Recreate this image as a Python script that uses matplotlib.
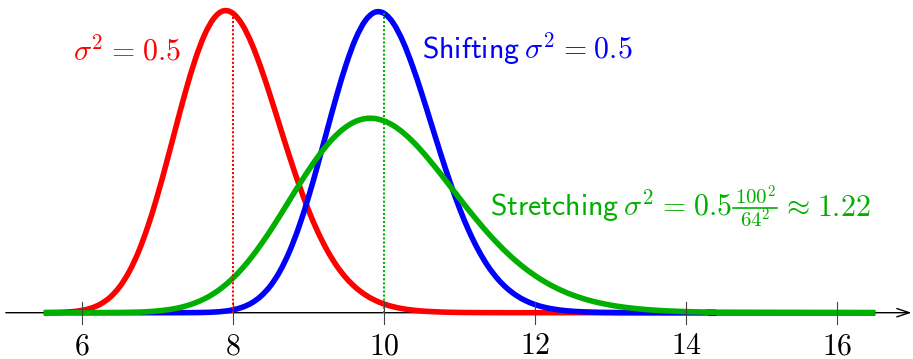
import numpy as np
import matplotlib
matplotlib.use("Agg")
import matplotlib.pyplot as plt
from matplotlib.path import Path
from matplotlib.patches import PathPatch
from matplotlib.lines import Line2D

plt.rcParams['mathtext.fontset'] = 'cm'

# ---- data ----
x_start, x_step, n_pts = 5.5, 0.125, 73        # sample grid 5.5 .. 14.5
x_end = 16.5                                   # curves drawn flat up to here
tick_values = [6, 8, 10, 12, 14, 16]

red_y = [0.0001, 0.0003, 0.0008, 0.0020, 0.0043, 0.0086, 0.0163, 0.0289, 0.0483, 0.0763,
         0.1140, 0.1621, 0.2194, 0.2837, 0.3512, 0.4171, 0.4761, 0.5234, 0.5551, 0.5691,
         0.5647, 0.5433, 0.5074, 0.4607, 0.4072, 0.3507, 0.2947, 0.2419, 0.1941, 0.1524,
         0.1173, 0.0884, 0.0654, 0.0476, 0.0340, 0.0239, 0.0165, 0.0112, 0.0075, 0.0050,
         0.0032, 0.0021, 0.0013, 0.0008, 0.0005, 0.0003, 0.0002, 0.0001, 0.0001, 0.0000,
         0.0000, 0.0000, 0.0000, 0.0000, 0.0000, 0.0000, 0.0000, 0.0000, 0.0000, 0.0000,
         0.0000, 0.0000, 0.0000, 0.0000, 0.0000, 0.0000, 0.0000, 0.0000, 0.0000, 0.0000,
         0.0000, 0.0000, 0.0000]

blue_y = [0.0000, 0.0000, 0.0000, 0.0000, 0.0000, 0.0000, 0.0000, 0.0000, 0.0000, 0.0000,
          0.0000, 0.0000, 0.0000, 0.0000, 0.0000, 0.0001, 0.0002, 0.0005, 0.0012, 0.0026,
          0.0054, 0.0102, 0.0184, 0.0315, 0.0510, 0.0786, 0.1154, 0.1619, 0.2173, 0.2794,
          0.3450, 0.4096, 0.4683, 0.5164, 0.5499, 0.5662, 0.5645, 0.5456, 0.5118, 0.4663,
          0.4133, 0.3566, 0.2998, 0.2459, 0.1968, 0.1540, 0.1178, 0.0881, 0.0646, 0.0464,
          0.0327, 0.0226, 0.0153, 0.0102, 0.0067, 0.0043, 0.0027, 0.0017, 0.0011, 0.0006,
          0.0004, 0.0002, 0.0001, 0.0001, 0.0000, 0.0000, 0.0000, 0.0000, 0.0000, 0.0000,
          0.0000, 0.0000, 0.0000]

green_y = [0.0000, 0.0000, 0.0000, 0.0000, 0.0000, 0.0000, 0.0001, 0.0002, 0.0003, 0.0006,
           0.0011, 0.0019, 0.0033, 0.0053, 0.0082, 0.0125, 0.0184, 0.0262, 0.0364, 0.0492,
           0.0649, 0.0835, 0.1050, 0.1291, 0.1553, 0.1832, 0.2119, 0.2405, 0.2681, 0.2937,
           0.3165, 0.3356, 0.3505, 0.3607, 0.3659, 0.3662, 0.3617, 0.3528, 0.3399, 0.3237,
           0.3048, 0.2838, 0.2616, 0.2386, 0.2156, 0.1929, 0.1711, 0.1504, 0.1311, 0.1133,
           0.0972, 0.0827, 0.0699, 0.0586, 0.0488, 0.0404, 0.0332, 0.0271, 0.0220, 0.0178,
           0.0143, 0.0114, 0.0091, 0.0072, 0.0056, 0.0044, 0.0034, 0.0027, 0.0021, 0.0016,
           0.0012, 0.0009, 0.0007]

# ---- styling ----
RED, BLUE, GREEN = '#ff0000', '#0000ff', '#00af00'
W, H = 913, 359

x = x_start + x_step * np.arange(n_pts)
xs = np.append(x, x_end)


def smooth_path(xv, yv):
    """Smooth (Catmull-Rom style) Bezier path passing through every sample."""
    P = np.column_stack([xv, yv])
    E = np.vstack([P[0], P, P[-1]])
    verts = [P[0]]
    codes = [Path.MOVETO]
    for i in range(len(P) - 1):
        p0, p1, p2, p3 = E[i], E[i + 1], E[i + 2], E[i + 3]
        verts += [p1 + (p2 - p0) / 6.0, p2 - (p3 - p1) / 6.0, p2]
        codes += [Path.CURVE4] * 3
    return Path(verts, codes)


fig = plt.figure(figsize=(W / 100, H / 100), dpi=100)
ax = fig.add_axes([0, 0, 1, 1])
ax.set_xlim(4.92, 17.0)
ax.set_ylim(-0.0873, 0.5896)
ax.axis('off')

# axis with arrow
ax.annotate('', xy=(16.98, 0), xytext=(4.997, 0),
            arrowprops=dict(arrowstyle='->,head_length=0.9,head_width=0.3',
                            lw=1.0, color='black', mutation_scale=10,
                            shrinkA=0, shrinkB=0), zorder=1)

# curves
for ys, c in [(red_y, RED), (blue_y, BLUE), (green_y, GREEN)]:
    patch = PathPatch(smooth_path(xs, np.append(ys, 0.0)), fill=False,
                      edgecolor=c, lw=4.0, capstyle='butt', joinstyle='round',
                      zorder=2)
    ax.add_patch(patch)

# dotted guides
i8 = int(round((8 - x_start) / x_step))
i10 = int(round((10 - x_start) / x_step))
ax.plot([8, 8], [0, red_y[i8]], color=RED, lw=1.4, ls=(0, (1.1, 1.0)), zorder=3)
ax.plot([10, 10], [0, blue_y[i10]], color=GREEN, lw=1.4, ls=(0, (1.1, 1.0)), zorder=3)

# ticks and labels
for t in tick_values:
    ax.plot([t, t], [-0.0204, 0.0204], color='#444444', lw=0.8, zorder=4)
    ax.text(t, -0.0785, f'${t}$', ha='center', va='baseline', fontsize=21.5, color='black')

# annotations (pixel positions from the top-left corner)
def fx(px):
    return px / W

def fy(py):
    return 1 - py / H

FS = 21.5
sp = r'\hspace{0.09}'
wsp = r'\hspace{0.22}'
fig.text(fx(73.3), fy(60.7), r'$\sigma^2' + sp + '=' + sp + '0.5$', color=RED,
         fontsize=FS, ha='left', va='baseline')
fig.text(fx(421.5), fy(59), r'$\mathsf{Shifting}' + wsp + r'\sigma^2' + sp + '=' + sp + '0.5$',
         color=BLUE, fontsize=FS, ha='left', va='baseline')

# "Stretching sigma^2 = 0.5 (100^2/64^2) ~ 1.22" composed from pieces
fig.text(fx(490), fy(215.5), r'$\mathsf{Stretching}' + wsp + r'\sigma^2' + sp + '=' + sp + '0.5$',
         color=GREEN, fontsize=FS, ha='left', va='baseline')
frac_l, frac_r = 732.7, 777.3
frac_c = (frac_l + frac_r) / 2
fig.text(fx(frac_c), fy(205.0), r'$100^2$', color=GREEN, fontsize=15,
         ha='center', va='baseline')
fig.text(fx(frac_c), fy(227.5), r'$64^2$', color=GREEN, fontsize=15,
         ha='center', va='baseline')
fig.add_artist(Line2D([fx(frac_l), fx(frac_r)], [fy(208.3), fy(208.3)],
                      transform=fig.transFigure, color=GREEN, lw=1.2))
fig.text(fx(871), fy(215.5), r'$\approx' + sp + '1.22$', color=GREEN, fontsize=FS,
         ha='right', va='baseline')

fig.savefig('out.png', dpi=100)
